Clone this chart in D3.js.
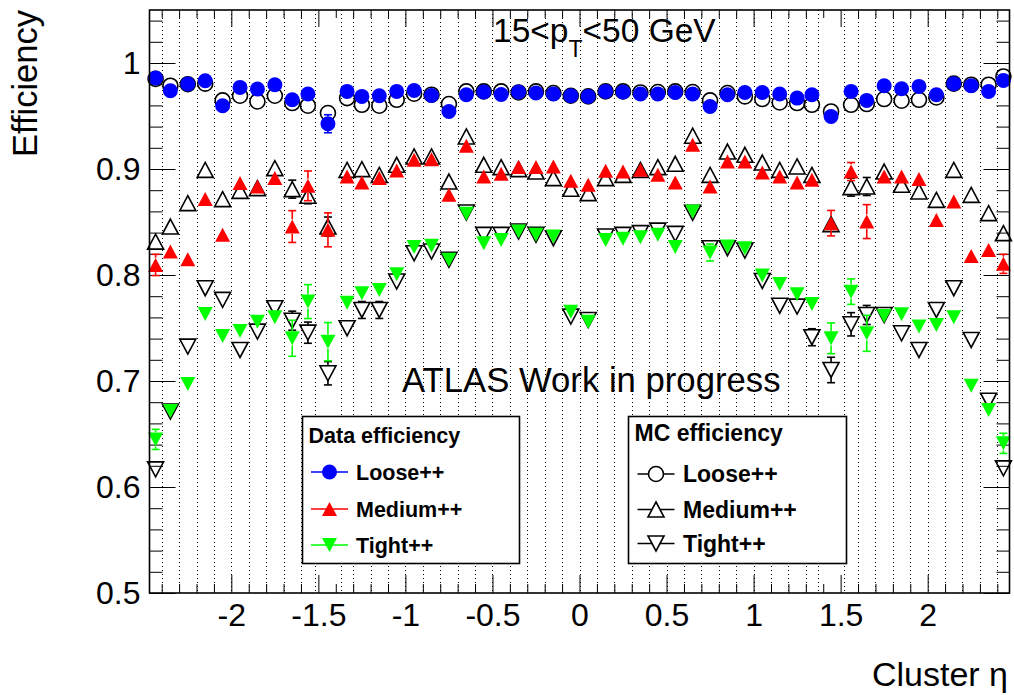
<!DOCTYPE html>
<html><head><meta charset="utf-8">
<script src="https://cdn.jsdelivr.net/npm/d3@7"></script>
<style>html,body{margin:0;padding:0;background:#fff}svg{display:block}</style>
</head><body>
<svg id="c" width="1014" height="695"></svg>
<script>
// ---------- data ----------
const etaEdges = [-2.47,-2.4,-2.3,-2.2,-2.1,-2.0,-1.9,-1.8,-1.7,-1.6,-1.52,-1.37,-1.3,-1.2,-1.1,-1.0,-0.9,-0.8,-0.7,-0.6,-0.5,-0.4,-0.3,-0.2,-0.1,0,0.1,0.2,0.3,0.4,0.5,0.6,0.7,0.8,0.9,1.0,1.1,1.2,1.3,1.37,1.52,1.6,1.7,1.8,1.9,2.0,2.1,2.2,2.3,2.4,2.47];

const dataLoose = [0.9858,0.9738,0.9802,0.9833,0.9597,0.9770,0.9754,0.9795,0.9653,0.9707,
  0.9427,0.9732,0.9685,0.9691,0.9732,0.9741,0.9694,0.9543,0.9701,0.9726,
  0.9703,0.9726,0.9717,0.9707,0.9691,0.9685,0.9732,0.9726,0.9707,0.9707,
  0.9722,0.9707,0.9590,0.9701,0.9722,0.9722,0.9707,0.9669,0.9701,0.9496,
  0.9732,0.9647,0.9786,0.9757,0.9779,0.9701,0.9805,0.9786,0.9732,0.9836];
const dataMedium = [0.8095,0.8221,0.8149,0.8716,0.8379,0.8867,0.8835,0.8914,0.8457,0.8841,
  0.8426,0.8929,0.8873,0.8914,0.8986,0.9087,0.9093,0.8756,0.9219,0.8929,
  0.8955,0.9018,0.9018,0.9024,0.8889,0.8851,0.8983,0.8976,0.8992,0.8945,
  0.8873,0.9229,0.8835,0.9071,0.9071,0.8967,0.8929,0.8873,0.8898,0.8489,
  0.8976,0.8504,0.8929,0.8929,0.8905,0.8520,0.8693,0.8180,0.8237,0.8105];
const dataTight = [0.6449,0.6717,0.6972,0.7633,0.7425,0.7472,0.7560,0.7602,0.7403,0.7749,
  0.7371,0.7739,0.7828,0.7859,0.8008,0.8263,0.8275,0.8143,0.8577,0.8300,
  0.8331,0.8410,0.8379,0.8363,0.7654,0.7560,0.8331,0.8341,0.8357,0.8379,
  0.8263,0.8599,0.8212,0.8268,0.8253,0.7996,0.7916,0.7819,0.7727,0.7403,
  0.7843,0.7450,0.7614,0.7630,0.7513,0.7529,0.7602,0.6956,0.6726,0.6412];
const mcLoose = [0.9850,0.9786,0.9800,0.9805,0.9647,0.9691,0.9637,0.9691,0.9622,0.9597,
  0.9528,0.9669,0.9606,0.9597,0.9653,0.9710,0.9701,0.9613,0.9732,0.9732,
  0.9732,0.9722,0.9732,0.9717,0.9691,0.9685,0.9732,0.9732,0.9722,0.9726,
  0.9732,0.9726,0.9647,0.9717,0.9685,0.9660,0.9628,0.9622,0.9606,0.9543,
  0.9606,0.9613,0.9660,0.9644,0.9653,0.9675,0.9805,0.9795,0.9795,0.9873];
const mcMedium = [0.8315,0.8457,0.8678,0.8992,0.8716,0.8794,0.8820,0.9008,0.8810,0.8747,
  0.8457,0.8992,0.8999,0.8945,0.9040,0.9118,0.9118,0.8882,0.9307,0.9040,
  0.9018,0.8999,0.8976,0.8914,0.8813,0.8772,0.8914,0.8945,0.8992,0.9018,
  0.9049,0.9314,0.8945,0.9165,0.9134,0.9061,0.8992,0.9024,0.8945,0.8480,
  0.8829,0.8835,0.8976,0.8851,0.8788,0.8709,0.8992,0.8756,0.8584,0.8395];
const mcTight = [0.6166,0.6711,0.7324,0.7875,0.7765,0.7293,0.7466,0.7687,0.7569,0.7456,
  0.7073,0.7498,0.7670,0.7670,0.7938,0.8205,0.8221,0.8143,0.8590,0.8379,
  0.8379,0.8410,0.8379,0.8347,0.7607,0.7576,0.8363,0.8379,0.8395,0.8419,
  0.8388,0.8587,0.8253,0.8253,0.8230,0.7944,0.7710,0.7702,0.7413,0.7104,
  0.7535,0.7623,0.7623,0.7450,0.7293,0.7670,0.7875,0.7387,0.6814,0.6176];

const dataLooseErr = [0.002,0.002,0.002,0.002,0.002,0.002,0.002,0.002,0.002,0.002,
  0.0085,0.002,0.002,0.002,0.002,0.002,0.002,0.002,0.002,0.002,
  0.002,0.002,0.002,0.002,0.002,0.002,0.002,0.002,0.002,0.002,
  0.002,0.002,0.002,0.002,0.002,0.002,0.002,0.002,0.002,0.004,
  0.002,0.002,0.002,0.002,0.002,0.002,0.002,0.002,0.002,0.002];
const dataMediumErr = [0.010,0.004,0.004,0.004,0.004,0.004,0.004,0.004,0.015,0.014,
  0.016,0.004,0.004,0.004,0.004,0.004,0.004,0.004,0.004,0.004,
  0.004,0.004,0.004,0.004,0.004,0.004,0.004,0.004,0.004,0.004,
  0.004,0.004,0.004,0.004,0.004,0.004,0.004,0.004,0.004,0.012,
  0.0085,0.016,0.004,0.004,0.004,0.004,0.004,0.004,0.004,0.009];
const dataTightErr = [0.0095,0.006,0.006,0.006,0.006,0.006,0.006,0.006,0.017,0.016,
  0.018,0.006,0.006,0.006,0.006,0.006,0.006,0.006,0.006,0.006,
  0.006,0.006,0.006,0.006,0.006,0.006,0.006,0.006,0.006,0.006,
  0.006,0.006,0.008,0.006,0.006,0.006,0.006,0.006,0.006,0.0145,
  0.012,0.017,0.006,0.006,0.006,0.006,0.006,0.006,0.006,0.0095];
const mcLooseErr = [0.001,0.001,0.001,0.001,0.001,0.001,0.001,0.001,0.001,0.001,
  0.002,0.001,0.001,0.001,0.001,0.001,0.001,0.001,0.001,0.001,
  0.001,0.001,0.001,0.001,0.001,0.001,0.001,0.001,0.001,0.001,
  0.001,0.001,0.001,0.001,0.001,0.001,0.001,0.001,0.001,0.002,
  0.001,0.001,0.001,0.001,0.001,0.001,0.001,0.001,0.001,0.001];
const mcMediumErr = [0.003,0.003,0.003,0.003,0.003,0.003,0.003,0.003,0.0085,0.0075,
  0.009,0.003,0.003,0.003,0.003,0.003,0.003,0.003,0.003,0.003,
  0.003,0.003,0.003,0.003,0.003,0.003,0.003,0.003,0.003,0.003,
  0.003,0.003,0.003,0.003,0.003,0.003,0.003,0.003,0.003,0.006,
  0.0085,0.0085,0.003,0.003,0.003,0.003,0.003,0.003,0.003,0.003];
const mcTightErr = [0.004,0.004,0.004,0.004,0.004,0.004,0.004,0.004,0.009,0.010,
  0.011,0.004,0.008,0.008,0.004,0.004,0.004,0.004,0.004,0.004,
  0.004,0.004,0.004,0.004,0.004,0.004,0.004,0.004,0.004,0.004,
  0.004,0.004,0.004,0.004,0.004,0.004,0.004,0.004,0.008,0.012,
  0.011,0.009,0.004,0.004,0.004,0.004,0.004,0.004,0.004,0.004];

const xMajorTicks = [-2,-1.5,-1,-0.5,0,0.5,1,1.5,2];
const xMajorLabels = ["-2","-1.5","-1","-0.5","0","0.5","1","1.5","2"];
const yMajorTicks = [0.5,0.6,0.7,0.8,0.9,1.0];
const yMajorLabels = ["0.5","0.6","0.7","0.8","0.9","1"];
const legendLabels = ["Loose++","Medium++","Tight++"];

// ---------- setup ----------
const FONT = "'Liberation Sans', Arial, Helvetica, sans-serif";
const svg = d3.select("#c");
const X0 = 149.5, X1 = 1009.5, Y0 = 593, Y1 = 10;
const x = d3.scaleLinear().domain([-2.47, 2.47]).range([X0, X1]);
const y = d3.scaleLinear().domain([0.5, 1.05]).range([Y0, Y1]);
const xMinorTicks = d3.range(-24, 25).map(i => i / 10).filter(v => !xMajorTicks.some(m => Math.abs(m - v) < 1e-6));
const yMinorTicks = d3.range(25, 53).map(i => +(i * 0.02).toFixed(2)).filter(v => !yMajorTicks.some(m => Math.abs(m - v) < 1e-6));

svg.append("rect").attr("width", 1014).attr("height", 695).attr("fill", "#fff");

// vertical dotted grid at bin edges
svg.append("g").selectAll("line").data(etaEdges.slice(1, -1)).join("line")
  .attr("x1", d => Math.round(x(d)) + 0.5).attr("x2", d => Math.round(x(d)) + 0.5)
  .attr("y1", Y1).attr("y2", Y0)
  .attr("stroke", "#000").attr("stroke-width", 1)
  .attr("stroke-dasharray", "1,3");

// axes
function styleAxis(g) { g.select(".domain").remove(); g.attr("font-family", FONT).attr("font-size", 32); g.selectAll("line").attr("stroke", "#000"); g.selectAll("text").attr("fill", "#000"); }
svg.append("g").attr("transform", `translate(0,${Y0})`)
  .call(d3.axisBottom(x).tickValues(xMinorTicks).tickSize(-9).tickSizeOuter(0).tickFormat(""))
  .call(styleAxis);
svg.append("g").attr("transform", `translate(0,${Y0})`)
  .call(d3.axisBottom(x).tickValues(xMajorTicks).tickSize(-18).tickSizeOuter(0).tickPadding(10).tickFormat((d, i) => xMajorLabels[i]))
  .call(styleAxis);
svg.append("g").attr("transform", `translate(0,${Y1})`)
  .call(d3.axisTop(x).tickValues(xMinorTicks).tickSize(-8).tickSizeOuter(0).tickFormat(""))
  .call(styleAxis);
svg.append("g").attr("transform", `translate(0,${Y1})`)
  .call(d3.axisTop(x).tickValues(xMajorTicks).tickSize(-17).tickSizeOuter(0).tickFormat(""))
  .call(styleAxis);
svg.append("g").attr("transform", `translate(${X0},0)`)
  .call(d3.axisLeft(y).tickValues(yMinorTicks).tickSize(-13).tickSizeOuter(0).tickFormat(""))
  .call(styleAxis);
svg.append("g").attr("transform", `translate(${X0},0)`)
  .call(d3.axisLeft(y).tickValues(yMajorTicks).tickSize(-26).tickSizeOuter(0).tickPadding(9).tickFormat((d, i) => yMajorLabels[i]))
  .call(styleAxis);
svg.append("g").attr("transform", `translate(${X1},0)`)
  .call(d3.axisRight(y).tickValues(yMinorTicks).tickSize(-13).tickSizeOuter(0).tickFormat(""))
  .call(styleAxis);
svg.append("g").attr("transform", `translate(${X1},0)`)
  .call(d3.axisRight(y).tickValues(yMajorTicks).tickSize(-26).tickSizeOuter(0).tickFormat(""))
  .call(styleAxis);

// markers
function markerPath(type, open) {
  const w = open ? 8 : 7.5, h = open ? 7.5 : 7;
  if (type === "up") return `M0,${-h}L${w},${h}L${-w},${h}Z`;
  if (type === "down") return `M${-w},${-h}L${w},${-h}L0,${h}Z`;
  return null;
}
function drawMarker(g, type, open, color, cx, cy) {
  if (type === "circle") {
    g.append("circle").attr("cx", cx).attr("cy", cy).attr("r", 7.5)
      .attr("fill", open ? "none" : color).attr("stroke", open ? "#000" : "none").attr("stroke-width", 1.6);
  } else {
    g.append("path").attr("d", markerPath(type, open)).attr("transform", `translate(${cx},${cy})`)
      .attr("fill", open ? "none" : color).attr("stroke", open ? "#000" : "none").attr("stroke-width", 1.6)
      .attr("stroke-linejoin", "miter");
  }
}
const centers = etaEdges.slice(0, -1).map((e, i) => (e + etaEdges[i + 1]) / 2);

function drawSeries(vals, errs, type, open, color) {
  const g = svg.append("g");
  vals.forEach((v, i) => {
    const cx = x(centers[i]), cy = y(v);
    const ep = y(v - errs[i]) - cy;
    const half = 7.2;
    if (ep > half) {
      const eg = g.append("g").attr("stroke", color).attr("stroke-width", 1.6);
      eg.append("line").attr("x1", cx).attr("x2", cx).attr("y1", cy - ep).attr("y2", cy - half);
      eg.append("line").attr("x1", cx).attr("x2", cx).attr("y1", cy + half).attr("y2", cy + ep);
      eg.append("line").attr("x1", cx - 4).attr("x2", cx + 4).attr("y1", cy - ep).attr("y2", cy - ep);
      eg.append("line").attr("x1", cx - 4).attr("x2", cx + 4).attr("y1", cy + ep).attr("y2", cy + ep);
    }
    drawMarker(g, type, open, color, cx, cy);
  });
}
const BLUE = "#0000ff", RED = "#ff0000", GREEN = "#00ff00";
drawSeries(mcLoose, mcLooseErr, "circle", true, "#000");
drawSeries(mcMedium, mcMediumErr, "up", true, "#000");
drawSeries(mcTight, mcTightErr, "down", true, "#000");
drawSeries(dataLoose, dataLooseErr, "circle", false, BLUE);
drawSeries(dataMedium, dataMediumErr, "up", false, RED);
drawSeries(dataTight, dataTightErr, "down", false, GREEN);

// frame
svg.append("rect").attr("x", X0).attr("y", Y1).attr("width", X1 - X0).attr("height", Y0 - Y1)
  .attr("fill", "none").attr("stroke", "#000").attr("stroke-width", 1.6);

// texts
const title = svg.append("text").attr("x", 493).attr("y", 41.5).attr("font-family", FONT).attr("font-size", 33.5).attr("fill", "#000");
title.append("tspan").text("15<p");
title.append("tspan").attr("font-size", 23).attr("dy", 15).text("T");
title.append("tspan").attr("dy", -15).text("<50 GeV");

svg.append("text").attr("x", 402).attr("y", 392).attr("font-family", FONT).attr("font-size", 34.7).attr("fill", "#000").text("ATLAS Work in progress");

svg.append("text").attr("transform", "translate(37,10) rotate(-90)").attr("text-anchor", "end")
  .attr("font-family", FONT).attr("font-size", 34.5).attr("fill", "#000").text("Efficiency");
svg.append("text").attr("x", 1008).attr("y", 686).attr("text-anchor", "end")
  .attr("font-family", FONT).attr("font-size", 34).attr("fill", "#000").text("Cluster η");

// legends
function drawLegend(bx, bw, titleText, titleY, rowsY, lineX0, lineX1, textX, fs, types, open, colors) {
  const g = svg.append("g");
  g.append("rect").attr("x", bx).attr("y", 416.5).attr("width", bw).attr("height", 147)
    .attr("fill", "#fff").attr("stroke", "#000").attr("stroke-width", 1.6);
  g.append("text").attr("x", bx + 6).attr("y", titleY).attr("font-family", FONT).attr("font-weight", "bold")
    .attr("font-size", fs).attr("fill", "#000").text(titleText);
  legendLabels.forEach((lab, i) => {
    const ly = rowsY[i];
    g.append("line").attr("x1", lineX0).attr("x2", lineX1).attr("y1", ly).attr("y2", ly)
      .attr("stroke", colors[i]).attr("stroke-width", 1.6);
    const mx = (lineX0 + lineX1) / 2;
    if (open) {
      if (types[i] === "circle") g.append("circle").attr("cx", mx).attr("cy", ly).attr("r", 7.5).attr("fill", "#fff");
      else g.append("path").attr("d", markerPath(types[i], true)).attr("transform", `translate(${mx},${ly})`).attr("fill", "#fff");
    }
    drawMarker(g, types[i], open, colors[i], mx, ly);
    g.append("text").attr("x", textX).attr("y", ly + fs * 0.36).attr("font-family", FONT).attr("font-weight", "bold")
      .attr("font-size", fs).attr("fill", "#000").text(lab);
  });
}
drawLegend(302.5, 217, "Data efficiency", 443, [472, 509, 545], 311, 348, 356, 21.5, ["circle", "up", "down"], false, [BLUE, RED, GREEN]);
drawLegend(628.5, 218, "MC efficiency", 441, [474, 509.5, 543.5], 637.5, 674.5, 683, 23, ["circle", "up", "down"], true, ["#000", "#000", "#000"]);
</script>
</body></html>
